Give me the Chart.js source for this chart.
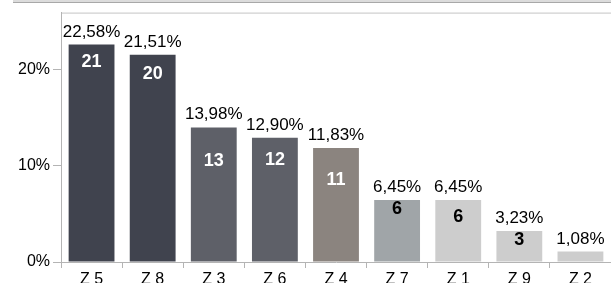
<!DOCTYPE html>
<html>
<head>
<meta charset="utf-8">
<script src="https://cdn.jsdelivr.net/npm/chart.js@4/dist/chart.umd.min.js"></script>
<style>
  html, body { margin: 0; padding: 0; background: #fff; }
  #wrap { width: 611px; height: 283px; position: relative; }
</style>
</head>
<body>
<div id="wrap"><canvas id="chart"></canvas></div>
<script>
const categories = ['Z 5', 'Z 8', 'Z 3', 'Z 6', 'Z 4', 'Z 7', 'Z 1', 'Z 9', 'Z 2'];
const counts = [21, 20, 13, 12, 11, 6, 6, 3, 1];
const percents = [22.58, 21.51, 13.98, 12.90, 11.83, 6.45, 6.45, 3.23, 1.08];
const yTicks = [0, 10, 20];

const barColors = ['#40434e', '#40434e', '#5e6068', '#5e6068', '#8b847f', '#a0a5a8', '#cdcdcd', '#cdcdcd', '#cdcdcd'];
const countColors = ['#fff', '#fff', '#fff', '#fff', '#fff', '#000', '#000', '#000', null];
// vertical spot of the count inside each bar, px below bar top
const countDy = [17, 19, 34, 22, 32, 9, 17, 9, null];

const FONT = '"Liberation Sans", Arial, sans-serif';

const labelPlugin = {
  id: 'labels',
  afterDatasetsDraw(chart) {
    const ctx = chart.ctx;
    const meta = chart.getDatasetMeta(0);
    ctx.save();
    ctx.textAlign = 'center';
    meta.data.forEach((bar, i) => {
      ctx.fillStyle = '#000';
      ctx.font = '17px ' + FONT;
      ctx.textBaseline = 'alphabetic';
      ctx.fillText(percents[i].toFixed(2).replace('.', ',') + '%', bar.x, bar.y - 8);
      if (countColors[i]) {
        ctx.fillStyle = countColors[i];
        ctx.font = 'bold 18px ' + FONT;
        ctx.textBaseline = 'middle';
        ctx.fillText(String(counts[i]), bar.x, bar.y + countDy[i]);
      }
    });
    ctx.restore();
  },
  beforeDraw(chart) {
    const ctx = chart.ctx;
    const a = chart.chartArea;
    ctx.save();
    // band at the very top
    ctx.fillStyle = '#dcdcdc';
    ctx.fillRect(13, 0, chart.width - 13, 2);
    ctx.strokeStyle = '#a8a8a8';
    ctx.lineWidth = 1;
    ctx.beginPath();
    ctx.moveTo(13, 2.5);
    ctx.lineTo(chart.width, 2.5);
    ctx.stroke();
    // top edge of the plot
    ctx.strokeStyle = '#c4c4c4';
    ctx.beginPath();
    ctx.moveTo(a.left, a.top + 0.5);
    ctx.lineTo(a.right, a.top + 0.5);
    ctx.stroke();
    ctx.restore();
  }
};

new Chart(document.getElementById('chart'), {
  type: 'bar',
  data: {
    labels: categories,
    datasets: [{
      data: percents,
      backgroundColor: barColors,
      borderWidth: 0,
      categoryPercentage: 1,
      barPercentage: 0.75
    }]
  },
  options: {
    responsive: true,
    maintainAspectRatio: false,
    animation: false,
    layout: { padding: { top: 7, right: 0, left: 0, bottom: 0 } },
    plugins: {
      legend: { display: false },
      tooltip: { enabled: false }
    },
    scales: {
      x: {
        offset: true,
        grid: {
          offset: true,
          drawOnChartArea: false,
          drawTicks: true,
          tickLength: 6,
          color: '#b4b4b4'
        },
        border: { color: '#b4b4b4' },
        ticks: {
          color: '#000',
          padding: 2,
          font: { family: FONT, size: 16 }
        },
        afterFit(scale) { scale.height = 21; }
      },
      y: {
        min: 0,
        max: 25.9,
        afterBuildTicks(scale) { scale.ticks = yTicks.map(v => ({ value: v })); },
        grid: {
          drawOnChartArea: false,
          drawTicks: true,
          tickLength: 8,
          color: '#b4b4b4'
        },
        border: { color: '#b4b4b4' },
        ticks: {
          color: '#000',
          padding: 3,
          font: { family: FONT, size: 16 },
          callback: v => v + '%'
        },
        afterFit(scale) { scale.width = 61; }
      }
    }
  },
  plugins: [labelPlugin]
});
</script>
</body>
</html>
